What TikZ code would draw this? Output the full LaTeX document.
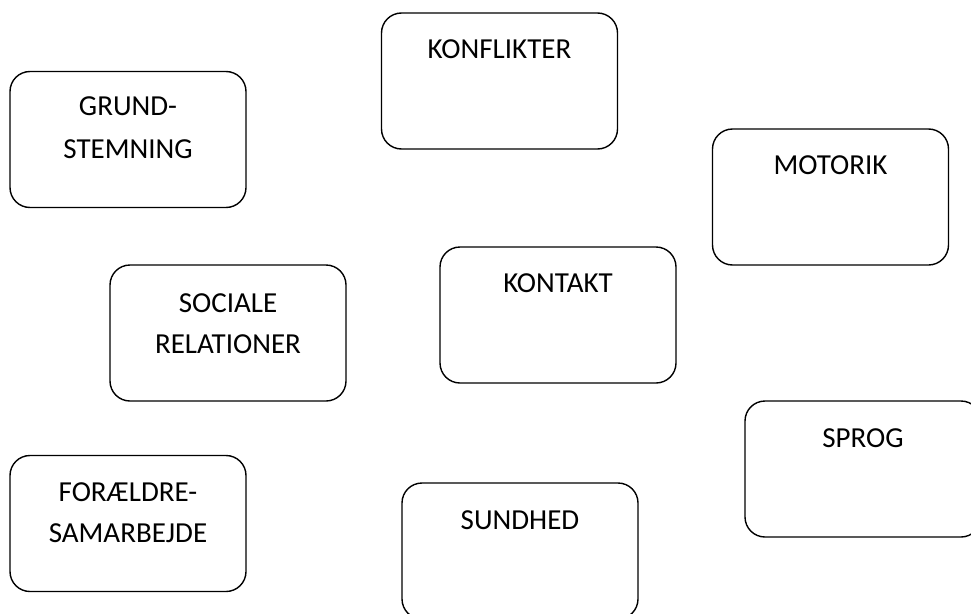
\documentclass[tikz,border=0pt]{standalone}
\usepackage{fontspec}
\setmainfont{Carlito}
\begin{document}
\begin{tikzpicture}[x=1pt,y=-1pt,
  box/.style={draw, line width=1.4pt, rounded corners=20pt, minimum width=236pt, minimum height=136pt, inner sep=0pt},
  lbl/.style={font=\fontsize{29}{29}\selectfont, anchor=base, inner sep=0pt}]
\useasboundingbox (0,0) rectangle (971,613);
\node[box] (konf) at (499.5,81) {};
\node[box] (grund) at (128,139.5) {};
\node[box] (motor) at (830.5,197) {};
\node[box] (kont) at (558,315) {};
\node[box] (soc) at (228,333) {};
\node[box] (sprog) at (863,469) {};
\node[box] (foraeld) at (128,523.5) {};
\node[box] (sund) at (520,551) {};
\node[lbl] (tkonf) at (499.5,58.5) {KONFLIKTER};
\node[lbl] (tgrund1) at (128,115.5) {GRUND-};
\node[lbl] (tgrund2) at (128,158.5) {STEMNING};
\node[lbl] (tmotor) at (830.5,174.5) {MOTORIK};
\node[lbl] (tkont) at (558,292.5) {KONTAKT};
\node[lbl] (tsoc1) at (228,312.5) {SOCIALE};
\node[lbl] (tsoc2) at (228,353.5) {RELATIONER};
\node[lbl] (tsprog) at (863,447.5) {SPROG};
\node[lbl] (tfor1) at (128,501.5) {FORÆLDRE-};
\node[lbl] (tfor2) at (128,542.5) {SAMARBEJDE};
\node[lbl] (tsund) at (520,529.5) {SUNDHED};
\end{tikzpicture}
\end{document}
